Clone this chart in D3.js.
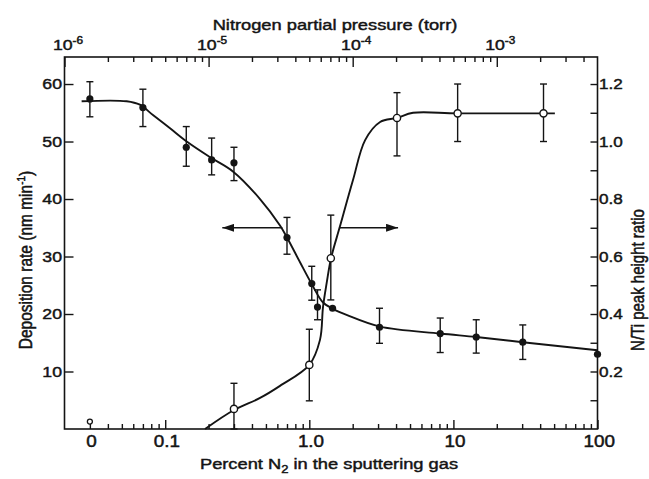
<!DOCTYPE html>
<html>
<head>
<meta charset="utf-8">
<script src="https://cdn.jsdelivr.net/npm/d3@7"></script>
<style>
  body { margin: 0; background: #fff; }
  text { font-family: "Liberation Sans", Arial, Helvetica, sans-serif; fill: #141414;
         stroke: #141414; stroke-width: 0.45px; }
</style>
</head>
<body>
<svg id="chart" width="649" height="479"></svg>
<script>
// Deposition rate (nm/min) against percent N2 in the gas; 0 % sits at the left end of the log axis
const ratePercent  = [0, 0.07, 0.14, 0.21, 0.30, 0.70, 1.04, 1.14, 1.45, 3.07, 8.1, 14.4, 30.3, 100];
const rateValue    = [57.4, 55.9, 49.0, 46.8, 46.3, 33.3, 25.3, 21.2, 21.0, 17.7, 16.6, 16.0, 15.1, 13.0];
const rateErrLow   = [54.3, 52.6, 45.7, 44.2, 43.2, 30.4, 22.4, 19.0, null, 14.9, 13.3, 13.2, 12.1, null];
const rateErrHigh  = [60.4, 59.1, 52.6, 50.6, 49.0, 36.8, 28.3, 24.2, null, 21.0, 19.3, 19.0, 18.1, null];

// N/Ti Auger peak height ratio
const ratioPercent = [0.30, 1.0, 1.41, 4.06, 10.7, 42.2];
const ratioValue   = [0.07, 0.223, 0.594, 1.082, 1.098, 1.098];
const ratioErrLow  = [0.0, 0.098, 0.449, 0.95, 1.0, 1.0];
const ratioErrHigh = [0.159, 0.347, 0.744, 1.17, 1.2, 1.2];
const ratioZeroValue = 0.026;   // small open circle at 0 % N2

// Drawn trend curves
const rateCurvePercent = [0.0263, 0.054, 0.0667, 0.0822, 0.108, 0.141, 0.204, 0.295, 0.455, 0.626, 0.70, 0.862, 1.04, 1.245, 1.46, 1.83, 3.1, 8.1, 14.4, 30.3, 100];
const rateCurveValue   = [57.0, 57.0, 56.4, 54.6, 52.3, 50.0, 47.3, 44.8, 40.0, 35.4, 33.3, 29.0, 25.2, 22.0, 20.9, 19.8, 17.8, 16.6, 16.0, 15.1, 13.7];
const ratioCurvePercent = [0.189, 0.30, 0.455, 0.626, 1.0, 1.186, 1.245, 1.32, 1.415, 1.63, 2.01, 2.44, 3.1, 4.06, 5.25, 10.7, 50.6];
const ratioCurveValue   = [0.0, 0.066, 0.108, 0.150, 0.223, 0.31, 0.425, 0.508, 0.594, 0.704, 0.866, 1.005, 1.068, 1.082, 1.10, 1.098, 1.098];

// Arrows pointing each curve to its axis
const arrowLevel = 35;                      // on the deposition-rate scale
const leftArrowPercent  = [0.65, 0.249];    // from, to
const rightArrowPercent = [1.63, 4.13];

// Tick values
const percentMajor = [0.1, 1, 10, 100];
const percentLabels = ["0.1", "1.0", "10", "100"];
const percentMinor = [0.04, 0.05, 0.06, 0.07, 0.08, 0.09,
  0.2, 0.3, 0.4, 0.5, 0.6, 0.7, 0.8, 0.9, 2, 3, 4, 5, 6, 7, 8, 9,
  20, 30, 40, 50, 60, 70, 80, 90];
const pressureMajor = [1e-6, 1e-5, 1e-4, 1e-3];
const pressureExp = ["-6", "-5", "-4", "-3"];
const pressureMinor = [2e-6, 3e-6, 4e-6, 5e-6, 6e-6, 7e-6, 8e-6, 9e-6,
  2e-5, 3e-5, 4e-5, 5e-5, 6e-5, 7e-5, 8e-5, 9e-5,
  2e-4, 3e-4, 4e-4, 5e-4, 6e-4, 7e-4, 8e-4, 9e-4, 2e-3, 3e-3, 4e-3];
const rateTicks = [10, 20, 30, 40, 50, 60];
const ratioTicks = [0.1, 0.2, 0.3, 0.4, 0.5, 0.6, 0.7, 0.8, 0.9, 1.0, 1.1, 1.2];
const ratioLabels = {0.2: "0.2", 0.4: "0.4", 0.6: "0.6", 0.8: "0.8", 1.0: "1.0", 1.2: "1.2"};

const zeroPercentAt = 0.03;   // where 0 % is placed on the log axis

const svg = d3.select("#chart");
const L = 64.5, R = 597.5, T = 57, B = 429;
const wide = 1.18;            // lettering is set wide

const x = d3.scaleLog().domain([0.02, 100]).range([L, R]);
const xTop = d3.scaleLog().domain([1e-6, 5e-3]).range([L, R]);
const y = d3.scaleLinear().domain([0, 64.7]).range([B, T]);
const yR = d3.scaleLinear().domain([0, 1.294]).range([B, T]);
const px = p => x(p === 0 ? zeroPercentAt : p);

const ink = "#141414";

// frame
svg.append("rect").attr("x", L).attr("y", T).attr("width", R - L).attr("height", B - T)
  .attr("fill", "none").attr("stroke", ink).attr("stroke-width", 1.6);

function styleAxis(g) {
  g.select(".domain").remove();
  g.selectAll(".tick line").attr("stroke", ink).attr("stroke-width", 1.4);
  g.selectAll("text").attr("font-size", 15);
}

// bottom axis: percent N2
svg.append("g").attr("transform", `translate(0,${B})`)
  .call(d3.axisBottom(x).tickValues(percentMinor).tickSizeInner(-5).tickSizeOuter(0).tickFormat(""))
  .call(styleAxis);
svg.append("g").attr("transform", `translate(0,${B})`)
  .call(d3.axisBottom(x).tickValues([zeroPercentAt, ...percentMajor]).tickSizeInner(-9).tickSizeOuter(0)
    .tickFormat((d, i) => i === 0 ? "0" : percentLabels[i - 1]))
  .call(styleAxis)
  .call(g => g.selectAll("text").attr("font-size", 16).attr("y", 7).attr("dx", 1)
    .attr("transform", `scale(${wide},1)`));

// top axis: nitrogen partial pressure
svg.append("g").attr("transform", `translate(0,${T})`)
  .call(d3.axisTop(xTop).tickValues(pressureMinor).tickSizeInner(-5).tickSizeOuter(0).tickFormat(""))
  .call(styleAxis);
const topMajor = svg.append("g").attr("transform", `translate(0,${T})`)
  .call(d3.axisTop(xTop).tickValues(pressureMajor).tickSizeInner(-10).tickSizeOuter(0).tickFormat(""))
  .call(styleAxis);
topMajor.selectAll(".tick").append("text")
  .attr("x", 2.5).attr("y", -7).attr("text-anchor", "middle").attr("font-size", 15)
  .attr("transform", `scale(${wide},1)`)
  .each(function (d, i) {
    const t = d3.select(this);
    t.append("tspan").text("10");
    t.append("tspan").attr("font-size", 10).attr("dy", -6).text(pressureExp[i]);
  });

// left axis: deposition rate
svg.append("g").attr("transform", `translate(${L},0)`)
  .call(d3.axisLeft(y).tickValues(rateTicks).tickSizeInner(-9).tickSizeOuter(0))
  .call(styleAxis)
  .call(g => g.selectAll("text").attr("x", -2.5 / wide).attr("transform", `scale(${wide},1)`));

// right axis: N/Ti ratio
svg.append("g").attr("transform", `translate(${R},0)`)
  .call(d3.axisRight(yR).tickValues(ratioTicks).tickSizeInner(-7).tickSizeOuter(0)
    .tickFormat(d => ratioLabels[Math.round(d * 10) / 10] || ""))
  .call(styleAxis)
  .call(g => g.selectAll("text").attr("x", 1.5 / wide).attr("font-size", 14.5)
    .attr("transform", `scale(${wide},1)`));

// axis titles
svg.append("text").attr("transform", `translate(335,30) scale(${wide},1)`)
  .attr("text-anchor", "middle").attr("font-size", 15.5)
  .text("Nitrogen partial pressure  (torr)");
const xt = svg.append("text").attr("transform", `translate(329,469) scale(${wide},1)`)
  .attr("text-anchor", "middle").attr("font-size", 15.5);
xt.append("tspan").text("Percent  N");
xt.append("tspan").attr("font-size", 11).attr("dy", 4).text("2");
xt.append("tspan").attr("dy", -4).text("  in the sputtering gas");
const yt = svg.append("text").attr("transform", `translate(32,260) rotate(-90) scale(1,${wide})`)
  .attr("text-anchor", "middle").attr("font-size", 15.5);
yt.append("tspan").text("Deposition rate  (nm min");
yt.append("tspan").attr("font-size", 10).attr("dy", -6).text("-1");
yt.append("tspan").attr("dy", 6).text(")");
svg.append("text").attr("transform", `translate(644,280) rotate(-90) scale(1,${wide})`)
  .attr("text-anchor", "middle").attr("font-size", 15).text("N/Ti peak height ratio");

// trend curves
const line = d3.line().curve(d3.curveCatmullRom.alpha(0.5));
svg.append("path")
  .attr("d", line(rateCurvePercent.map((p, i) => [x(p), y(rateCurveValue[i])])))
  .attr("fill", "none").attr("stroke", ink).attr("stroke-width", 1.9);
svg.append("path")
  .attr("d", line(ratioCurvePercent.map((p, i) => [x(p), yR(ratioCurveValue[i])])))
  .attr("fill", "none").attr("stroke", ink).attr("stroke-width", 1.9);

// arrows
const defs = svg.append("defs");
defs.append("marker").attr("id", "head").attr("viewBox", "0 0 12 8").attr("refX", 12).attr("refY", 4)
  .attr("markerWidth", 12).attr("markerHeight", 8).attr("markerUnits", "userSpaceOnUse").attr("orient", "auto")
  .append("path").attr("d", "M0,0 L12,4 L0,8 Z").attr("fill", ink);
[leftArrowPercent, rightArrowPercent].forEach(a => {
  svg.append("line").attr("x1", x(a[0])).attr("x2", x(a[1]))
    .attr("y1", y(arrowLevel)).attr("y2", y(arrowLevel))
    .attr("stroke", ink).attr("stroke-width", 1.5).attr("marker-end", "url(#head)");
});

// error bars
function errorBars(xs, lo, hi, yScale) {
  xs.forEach((p, i) => {
    if (lo[i] == null) return;
    const cx = px(p), y1 = yScale(lo[i]), y2 = yScale(hi[i]);
    const g = svg.append("g").attr("stroke", ink).attr("stroke-width", 1.4);
    g.append("line").attr("x1", cx).attr("x2", cx).attr("y1", y1).attr("y2", y2);
    g.append("line").attr("x1", cx - 3.5).attr("x2", cx + 3.5).attr("y1", y1).attr("y2", y1);
    g.append("line").attr("x1", cx - 3.5).attr("x2", cx + 3.5).attr("y1", y2).attr("y2", y2);
  });
}
errorBars(ratePercent, rateErrLow, rateErrHigh, y);
errorBars(ratioPercent, ratioErrLow, ratioErrHigh, yR);

// markers
svg.append("g").selectAll("circle").data(ratePercent).join("circle")
  .attr("cx", d => px(d)).attr("cy", (d, i) => y(rateValue[i])).attr("r", 3.6).attr("fill", ink);
svg.append("g").selectAll("circle").data(ratioPercent).join("circle")
  .attr("cx", d => px(d)).attr("cy", (d, i) => yR(ratioValue[i])).attr("r", 3.6)
  .attr("fill", "#fff").attr("stroke", ink).attr("stroke-width", 1.4);
svg.append("circle").attr("cx", px(0)).attr("cy", yR(ratioZeroValue)).attr("r", 2.5)
  .attr("fill", "#fff").attr("stroke", ink).attr("stroke-width", 1.3);
</script>
</body>
</html>
